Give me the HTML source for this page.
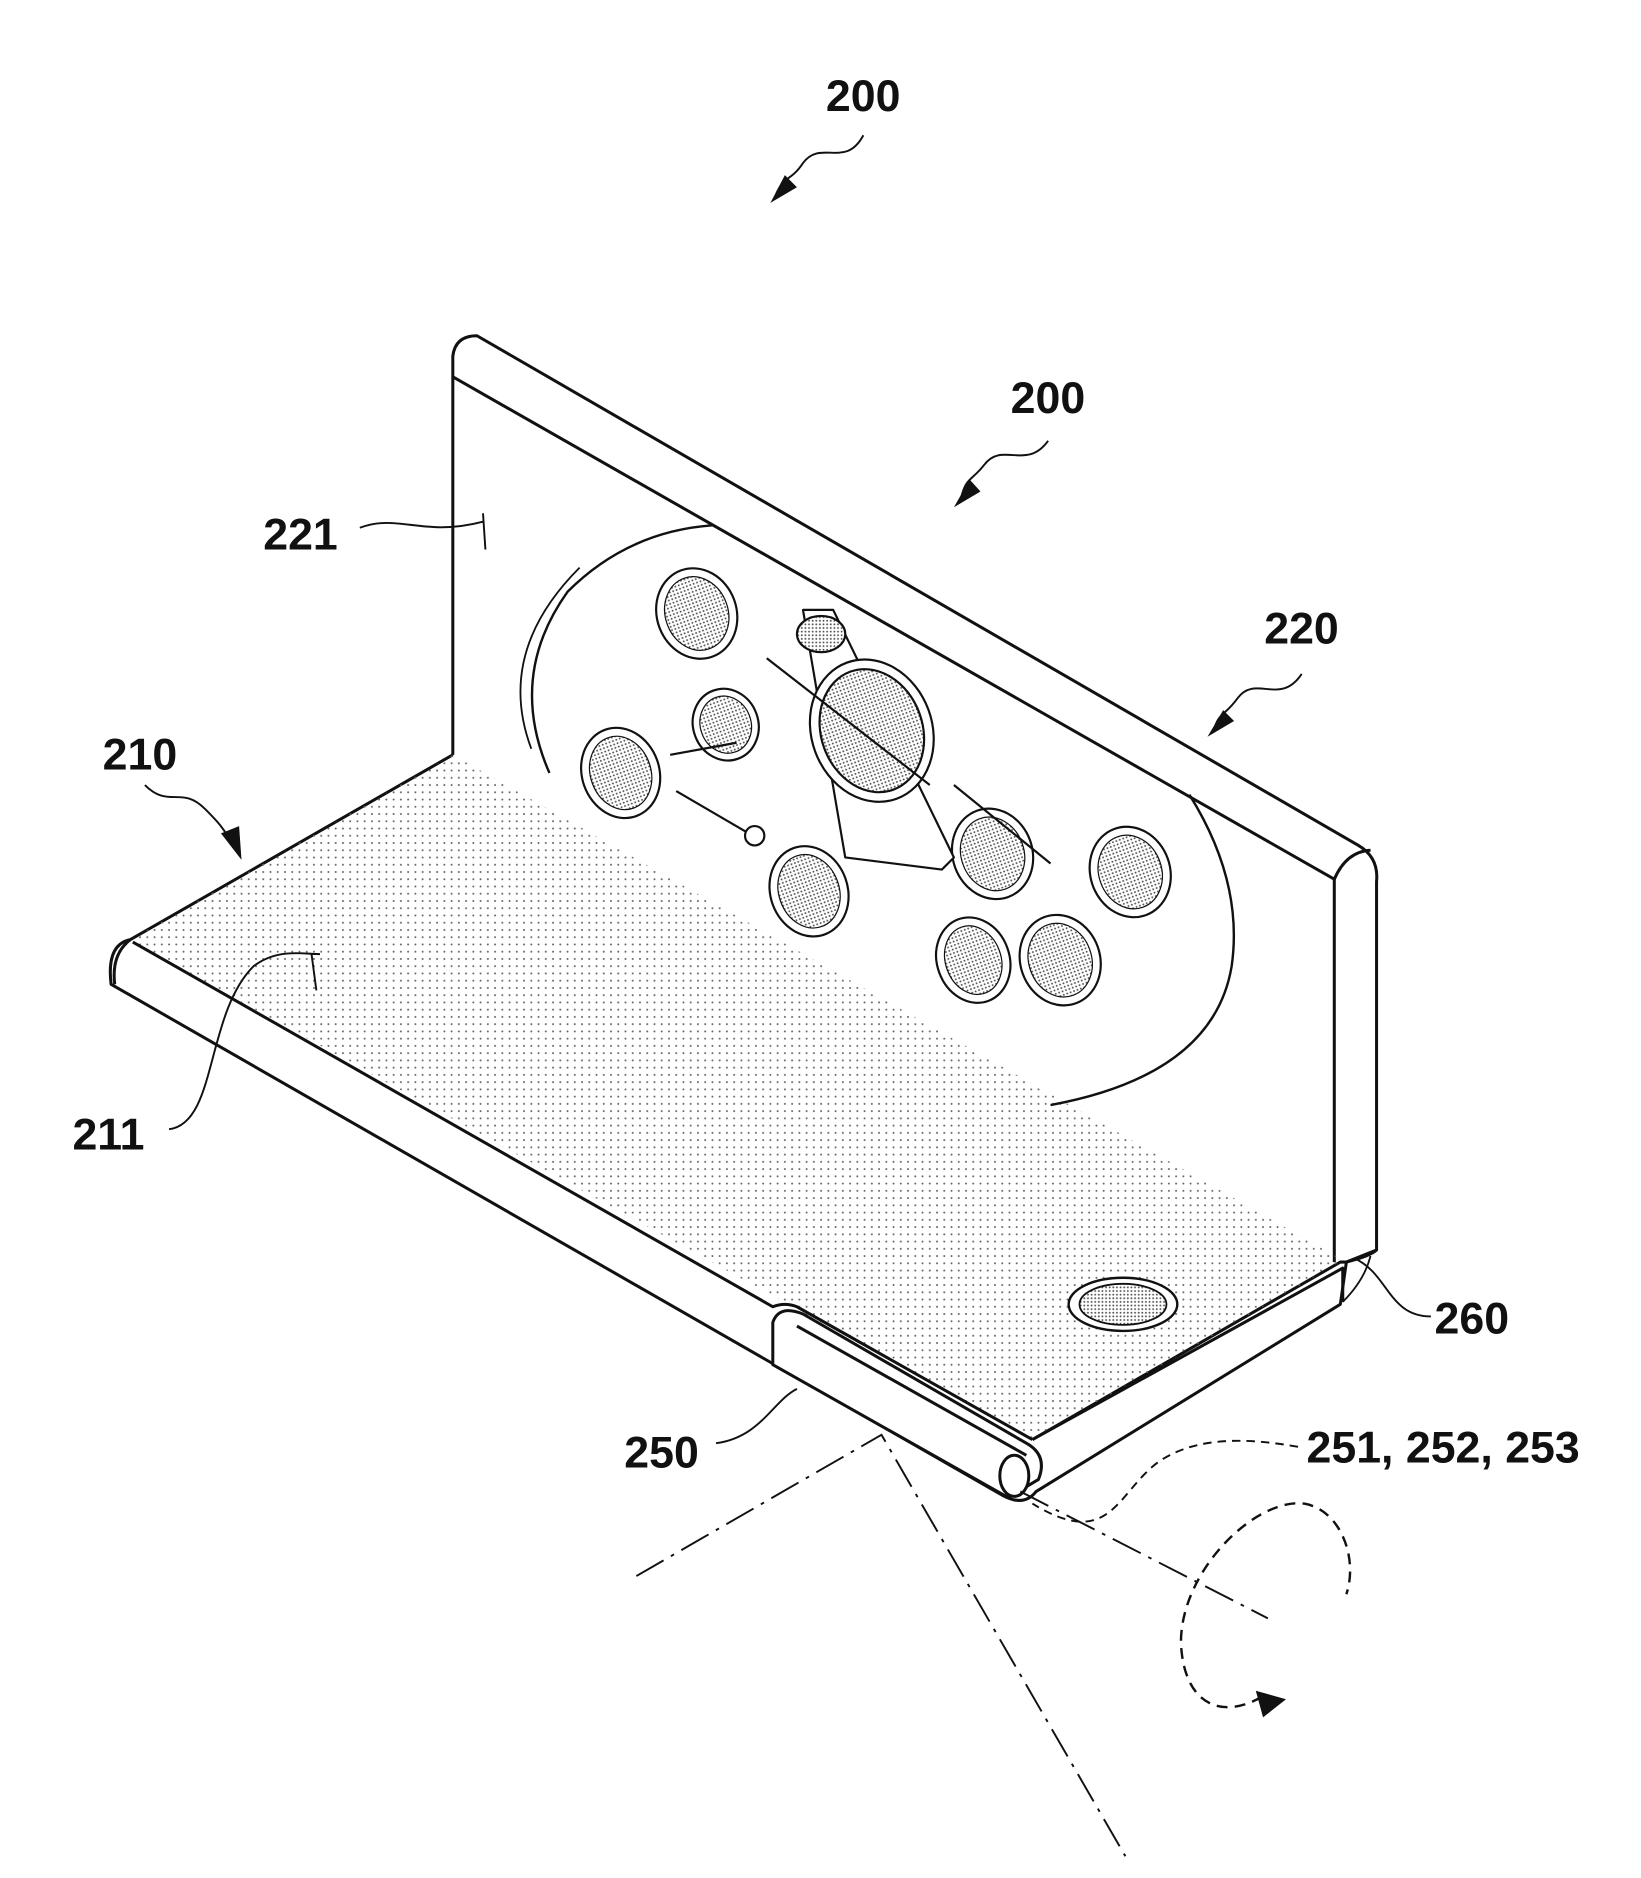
<!DOCTYPE html>
<html><head><meta charset="utf-8"><style>
html,body{margin:0;padding:0;background:#fff;}
svg{display:block;}
text{font-family:"Liberation Sans",sans-serif;font-weight:bold;font-size:37px;fill:#111;}
</style></head><body>
<svg width="1641" height="1878" viewBox="0 0 1359 1555" preserveAspectRatio="none" xmlns="http://www.w3.org/2000/svg">
<defs>
<pattern id="dots" width="6" height="6" patternUnits="userSpaceOnUse"><circle cx="2" cy="2" r="0.85" fill="#666"/></pattern>
<pattern id="dense" width="3" height="3" patternUnits="userSpaceOnUse"><rect width="3" height="3" fill="#fff"/><circle cx="1" cy="1" r="0.8" fill="#555"/></pattern>
</defs>
<g fill="none" stroke="#111" stroke-width="2.5" stroke-linejoin="round">
<path d="M375 625 L375 295 Q377 278 395 278 L1125 700 Q1142 710 1140 730 L1140 1035 L1115 1045" fill="#fff"/>
<path d="M375 312 L1105 728 L1105 1045"/>
<path d="M1105 728 Q1115 705 1135 704"/>
<path d="M375 625 L108 778 Q88 782 92 815 L830 1238 Q848 1248 858 1235 L1110 1080 L1115 1045 L1110 1045 L855 1192" fill="#fff"/>
<path d="M108 778 L375 625 L1115 1045 L1110 1045 L855 1192 L110 780 Z" fill="url(#dots)" stroke="none"/>
<path d="M110 780 L640 1082 Q650 1078 660 1082 L855 1192"/>
<path d="M108 778 Q92 790 95 815"/>
<path d="M640 1095 Q645 1080 665 1088 L850 1195 Q868 1205 860 1225 L835 1240 L640 1130 Z" fill="#fff"/>
<path d="M660 1098 L850 1205"/>
<ellipse cx="840" cy="1222" rx="12" ry="17" fill="#fff"/>
<path d="M855 1192 L1112 1050 L1112 1078"/>
<path d="M1115 1045 Q1135 1040 1140 1035"/>
<path d="M1112 1078 Q1130 1060 1135 1040" stroke-width="1.5"/>
<path d="M455 640 Q420 560 470 490 Q520 440 590 435" stroke-width="2"/>
<path d="M440 620 Q410 540 480 470" stroke-width="1.5"/>
<path d="M985 658 Q1030 730 1020 800 Q1005 890 870 915" stroke-width="2"/>
<g stroke-width="1.8">
<g transform="rotate(-20 577 508)"><ellipse cx="577" cy="508" rx="33" ry="38" fill="#fff"/><ellipse cx="577" cy="508" rx="26" ry="31" fill="url(#dense)" stroke-width="1"/></g>
<g transform="rotate(-20 514 640)"><ellipse cx="514" cy="640" rx="32" ry="38" fill="#fff"/><ellipse cx="514" cy="640" rx="25" ry="31" fill="url(#dense)" stroke-width="1"/></g>
<g transform="rotate(-20 601 600)"><ellipse cx="601" cy="600" rx="27" ry="30" fill="#fff"/><ellipse cx="601" cy="600" rx="21" ry="24" fill="url(#dense)" stroke-width="1"/></g>
<g transform="rotate(-20 670 738)"><ellipse cx="670" cy="738" rx="32" ry="38" fill="#fff"/><ellipse cx="670" cy="738" rx="25" ry="31" fill="url(#dense)" stroke-width="1"/></g>
<g transform="rotate(-20 822 707)"><ellipse cx="822" cy="707" rx="33" ry="38" fill="#fff"/><ellipse cx="822" cy="707" rx="26" ry="31" fill="url(#dense)" stroke-width="1"/></g>
<g transform="rotate(-20 936 722)"><ellipse cx="936" cy="722" rx="33" ry="38" fill="#fff"/><ellipse cx="936" cy="722" rx="26" ry="31" fill="url(#dense)" stroke-width="1"/></g>
<g transform="rotate(-20 806 795)"><ellipse cx="806" cy="795" rx="30" ry="36" fill="#fff"/><ellipse cx="806" cy="795" rx="23" ry="29" fill="url(#dense)" stroke-width="1"/></g>
<g transform="rotate(-20 878 795)"><ellipse cx="878" cy="795" rx="33" ry="38" fill="#fff"/><ellipse cx="878" cy="795" rx="26" ry="31" fill="url(#dense)" stroke-width="1"/></g>
<path d="M665 505 L690 505 L790 710 L780 720 L700 710 Z" fill="#fff"/>
<ellipse cx="722" cy="605" rx="50" ry="60" transform="rotate(-20 722 605)" fill="#fff"/>
<ellipse cx="722" cy="605" rx="42" ry="52" transform="rotate(-20 722 605)" fill="url(#dense)"/>
<path d="M635 545 L770 650 M555 625 L610 615 M560 655 L620 690 M790 650 L870 715"/>
<circle cx="625" cy="692" r="8" fill="#fff"/>
<ellipse cx="680" cy="525" rx="20" ry="15" fill="url(#dense)"/>
</g>
<ellipse cx="930" cy="1080" rx="45" ry="22" fill="#fff" stroke-width="2"/>
<ellipse cx="930" cy="1080" rx="36" ry="17" fill="url(#dense)" stroke-width="1.5"/>
</g>
<g fill="none" stroke="#111" stroke-width="1.6">
<path d="M715 112 C700 140 680 115 665 135 C655 150 650 145 643 160"/>
<path d="M868 365 C850 390 830 365 815 385 C805 398 800 395 796 412"/>
<path d="M1078 558 C1060 585 1040 558 1025 578 C1015 592 1010 590 1006 602"/>
<path d="M120 650 C140 670 150 650 170 670 C180 680 185 685 195 703"/>
<path d="M298 437 C330 425 350 445 400 432 M400 425 L402 455"/>
<path d="M140 935 C180 930 170 840 210 800 C230 785 250 790 265 790 M258 790 L262 820"/>
<path d="M1185 1090 C1150 1090 1150 1055 1122 1042"/>
<path d="M593 1195 C630 1190 640 1160 660 1150"/>
<path d="M1075 1198 C1030 1190 990 1190 960 1210 C925 1235 920 1285 855 1245" stroke-dasharray="7 5"/>
<path d="M527 1305 L730 1188 L932 1537 M845 1235 L1050 1340" stroke-dasharray="26 7 3 7"/>
<path d="M1045 1405 C1010 1425 980 1410 978 1360 C978 1300 1040 1240 1080 1245 C1110 1250 1125 1290 1115 1320" stroke-dasharray="9 6" stroke-width="2"/>
</g>
<path d="M650 145 L638 168 L660 155 Z M803 397 L790 420 L812 407 Z M1013 588 L1000 610 L1022 597 Z M183 690 L200 712 L198 684 Z M1040 1400 L1065 1407 L1046 1422 Z" fill="#111"/>
<text x="684" y="92">200</text>
<text x="837" y="342">200</text>
<text x="1047" y="533">220</text>
<text x="85" y="637">210</text>
<text x="218" y="455">221</text>
<text x="60" y="952">211</text>
<text x="1188" y="1104">260</text>
<text x="517" y="1215">250</text>
<text x="1082" y="1211">251, 252, 253</text>
</svg>
</body></html>
